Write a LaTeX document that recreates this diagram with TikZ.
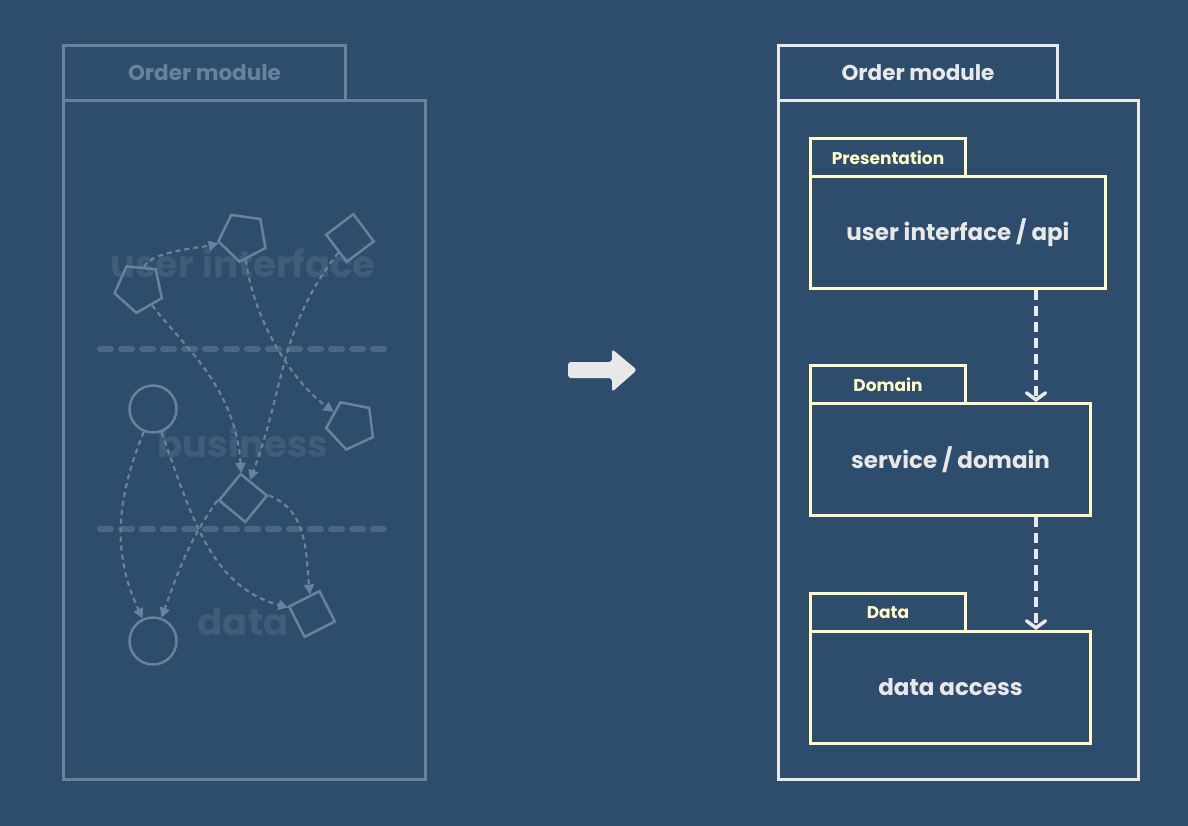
\documentclass[tikz,border=0pt]{standalone}
\usepackage{fontspec}
\setmainfont{Poppins}
\usetikzlibrary{arrows.meta,shapes.geometric}
\definecolor{bg}{RGB}{46,77,108}
\definecolor{muted}{RGB}{106,129,156}
\definecolor{ghost}{RGB}{63,92,122}
\definecolor{sepc}{RGB}{74,103,133}
\definecolor{wht}{RGB}{232,232,232}
\definecolor{yel}{RGB}{255,250,200}
\begin{document}
\begin{tikzpicture}[x=1pt,y=1pt,
  box/.style={draw, line width=3pt, inner sep=0pt, anchor=north west, font=\bfseries\fontsize{21.5}{25}\selectfont},
  oldbox/.style={box, draw=muted, text=muted},
  newbox/.style={box, draw=wht, text=wht},
  pkgtab/.style={box, draw=yel, text=yel, minimum width=155pt, minimum height=38pt, font=\bfseries\fontsize{17}{20}\selectfont},
  pkgbody/.style={box, draw=yel, text=wht, minimum height=112pt, font=\bfseries\fontsize{23}{27}\selectfont},
  ghosttext/.style={text=ghost, font=\bfseries\fontsize{37}{42}\selectfont},
  sep/.style={draw=sepc, line width=6pt, line cap=round, dash pattern=on 11pt off 10pt},
  shp/.style={draw=muted, line width=2.5pt, inner sep=0pt},
  pent/.style={shp, regular polygon, regular polygon sides=5, minimum size=50pt},
  sq/.style={shp, rectangle, minimum size=34pt},
  circ/.style={shp, circle, minimum size=47pt},
  dep/.style={draw=muted, line width=2.2pt, dash pattern=on 5pt off 4pt, -{Triangle[length=10pt,width=10pt]}},
  layer/.style={draw=wht, line width=3.5pt, dash pattern=on 10pt off 6pt, -{Straight Barb[length=7pt,width=19pt,line cap=round]}}
]
\useasboundingbox (0,0) rectangle (1188,-826);
\fill[bg] (0,0) rectangle (1188,-826);

% ---------- left module ----------
\node[oldbox, minimum width=362pt, minimum height=679pt] (lbody) at (62,-99) {};
\node[oldbox, minimum width=282pt, minimum height=55pt] (ltab) at (62,-44) {Order module};

\node[ghosttext] (gui) at (243,-263) {user interface};
\node[ghosttext] (gbus) at (243,-443) {business};
\node[ghosttext] (gdata) at (243,-622) {data};

\coordinate (s1a) at (100,-349);
\coordinate (s1b) at (386,-349);
\coordinate (s2a) at (100,-529);
\coordinate (s2b) at (386,-529);
\draw[sep] (s1a) -- (s1b);
\draw[sep] (s2a) -- (s2b);

\node[pent, rotate=174] (P1) at (139,-288) {};
\node[pent, rotate=172] (P2) at (243,-237) {};
\node[sq, rotate=-53] (S1) at (350,-238) {};
\node[pent, rotate=169] (P3) at (351,-425) {};
\node[circ] (C1) at (153,-409) {};
\node[sq, rotate=-39.5] (D1) at (243,-498) {};
\node[sq, rotate=27] (S2) at (312,-614) {};
\node[circ] (C2) at (153,-641) {};

\draw[dep] (P1) to[out=72,in=190] (P2);
\draw[dep] (P1) to[out=-55,in=100] (D1);
\draw[dep] (P2) to[out=-85,in=140] (P3);
\draw[dep] (S1) to[out=-120,in=75] (D1);
\draw[dep] (C1) to[out=-112,in=115] (C2);
\draw[dep] (C1) to[out=-70,in=160] (S2);
\draw[dep] (D1.south west) to[out=-125,in=70] (C2);
\draw[dep] (D1.north east) to[out=-20,in=88] (S2);

% ---------- middle arrow ----------
\fill[wht, rounded corners=3pt] (568,-362) -- (612,-362) -- (612,-349) -- (637,-370)
  -- (612,-392) -- (612,-378) -- (568,-378) -- cycle;

% ---------- right module ----------
\node[newbox, minimum width=360pt, minimum height=679pt] (rbody) at (777,-99) {};
\node[newbox, minimum width=279pt, minimum height=55pt] (rtab) at (777,-44) {Order module};

\node[pkgbody, minimum width=295pt] (pbody) at (809,-175) {user interface / api};
\node[pkgtab] (ptab) at (809,-137) {Presentation};
\node[pkgbody, minimum width=280pt] (dbody) at (809,-402) {service / domain};
\node[pkgtab] (dtab) at (809,-364) {Domain};
\node[pkgbody, minimum width=280pt] (abody) at (809,-630) {data access};
\node[pkgtab] (atab) at (809,-592) {Data};

\coordinate (ax) at (1036,0);
\draw[layer] (pbody.south -| ax) -- (dbody.north -| ax);
\draw[layer] (dbody.south -| ax) -- (abody.north -| ax);
\end{tikzpicture}
\end{document}
